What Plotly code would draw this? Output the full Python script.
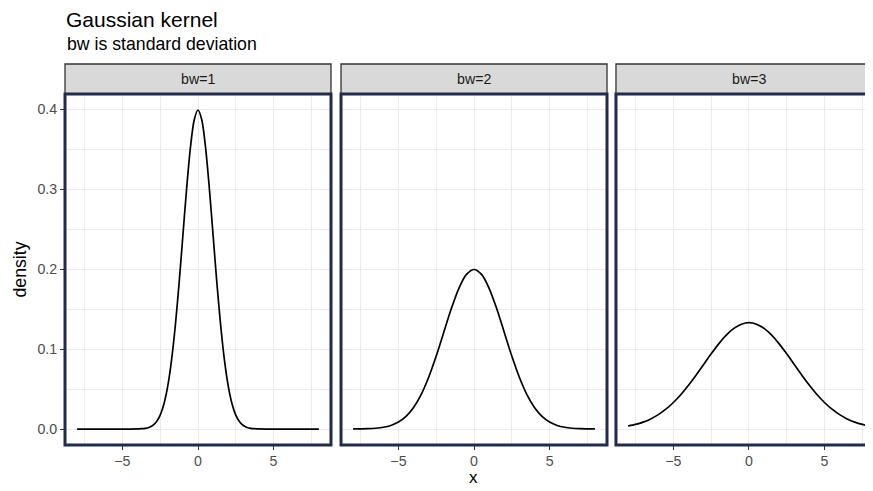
import plotly.graph_objects as go

# ---------------- data ----------------
panels = ["bw=1", "bw=2", "bw=3"]

x_bw1 = [-8, -6, -4.5, -4, -3.75, -3.5, -3.25, -3, -2.75, -2.5, -2.25, -2, -1.75, -1.5, -1.25, -1,
         -0.75, -0.5, -0.25, 0, 0.25, 0.5, 0.75, 1, 1.25, 1.5, 1.75, 2, 2.25, 2.5, 2.75, 3,
         3.25, 3.5, 3.75, 4, 4.5, 6, 8]
y_bw1 = [0.0, 0.0, 0.0, 0.0001, 0.0004, 0.0009, 0.0020, 0.0044, 0.0091, 0.0175, 0.0317, 0.0540,
         0.0863, 0.1295, 0.1826, 0.2420, 0.3011, 0.3521, 0.3867, 0.3989, 0.3867, 0.3521, 0.3011,
         0.2420, 0.1826, 0.1295, 0.0863, 0.0540, 0.0317, 0.0175, 0.0091, 0.0044, 0.0020, 0.0009,
         0.0004, 0.0001, 0.0, 0.0, 0.0]

x_bw23 = [-8, -7.5, -7, -6.5, -6, -5.5, -5, -4.5, -4, -3.5, -3, -2.5, -2, -1.5, -1, -0.5, 0,
          0.5, 1, 1.5, 2, 2.5, 3, 3.5, 4, 4.5, 5, 5.5, 6, 6.5, 7, 7.5, 8]
y_bw2 = [0.0001, 0.0002, 0.0004, 0.0010, 0.0022, 0.0045, 0.0088, 0.0159, 0.0270, 0.0431, 0.0648,
         0.0913, 0.1210, 0.1506, 0.1760, 0.1933, 0.1995, 0.1933, 0.1760, 0.1506, 0.1210, 0.0913,
         0.0648, 0.0431, 0.0270, 0.0159, 0.0088, 0.0045, 0.0022, 0.0010, 0.0004, 0.0002, 0.0001]
y_bw3 = [0.0038, 0.0058, 0.0087, 0.0127, 0.0180, 0.0248, 0.0332, 0.0432, 0.0547, 0.0673, 0.0807,
         0.0940, 0.1065, 0.1174, 0.1258, 0.1311, 0.1330, 0.1311, 0.1258, 0.1174, 0.1065, 0.0940,
         0.0807, 0.0673, 0.0547, 0.0432, 0.0332, 0.0248, 0.0180, 0.0127, 0.0087, 0.0058, 0.0038]

x_ticks = [-5, 0, 5]
y_ticks = [0.0, 0.1, 0.2, 0.3, 0.4]
y_tick_text = ["0.0", "0.1", "0.2", "0.3", "0.4"]

title = "Gaussian kernel"
subtitle = "bw is standard deviation"
x_title = "x"
y_title = "density"

# ---------------- styling ----------------
FONT = "Liberation Sans, Arial, sans-serif"
NAVY = "#222b4b"
GRID = "#ebebeb"
TICKC = "#4d4d4d"

fig = go.Figure()
series = [(x_bw1, y_bw1), (x_bw23, y_bw2), (x_bw23, y_bw3)]
for i, (xs, ys) in enumerate(series):
    ax = "" if i == 0 else str(i + 1)
    fig.add_trace(go.Scatter(x=xs, y=ys, mode="lines", xaxis="x" + ax, yaxis="y" + ax,
                             line=dict(color="black", width=1.7, shape="spline", smoothing=0.8),
                             showlegend=False, hoverinfo="skip"))

domains = [[0.0, 0.3292], [0.3416, 0.6708], [0.6819, 1.0]]
x_ranges = [[-8.8, 8.8], [-8.8, 8.8], [-8.8, 8.21]]
y_range = [-0.01995, 0.4189]

common_x = dict(tickvals=x_ticks, ticks="outside", ticklen=4, tickwidth=1.1, tickcolor="#333333",
                tickfont=dict(family=FONT, size=14.2, color=TICKC), showgrid=True, gridcolor=GRID,
                gridwidth=1.2, zeroline=False, showline=False, ticklabelstandoff=-1,
                minor=dict(dtick=2.5, tick0=-7.5, showgrid=True, gridcolor=GRID, gridwidth=0.6, ticks=""))
common_y = dict(range=y_range, showgrid=True, gridcolor=GRID, gridwidth=1.2, zeroline=False,
                showline=False, tickvals=y_ticks,
                minor=dict(dtick=0.05, tick0=0.05, showgrid=True, gridcolor=GRID, gridwidth=0.6, ticks=""))

# the page body adds an 8px offset, so the figure is 8px smaller and margins shifted by 8px
layout = dict(width=865, height=483, margin=dict(l=57, r=0, t=86, b=46),
              plot_bgcolor="white", paper_bgcolor="white", showlegend=False)
for i in range(3):
    ax = "" if i == 0 else str(i + 1)
    xa = dict(common_x, domain=domains[i], range=x_ranges[i], anchor="y" + ax)
    ya = dict(common_y, domain=[0, 1], anchor="x" + ax)
    if i == 0:
        ya.update(ticktext=y_tick_text, ticks="outside", ticklen=4, tickwidth=1.1, tickcolor="#333333",
                  tickfont=dict(family=FONT, size=14.2, color=TICKC))
    else:
        ya.update(showticklabels=False, ticks="", matches="y")
    layout["xaxis" + ax] = xa
    layout["yaxis" + ax] = ya
fig.update_layout(**layout)

shapes = []
annotations = []
strip_y0, strip_y1 = 1.0, 1.0855
for i in range(3):
    ax = "x" if i == 0 else "x" + str(i + 1)
    right = 1.0 if i < 2 else 266 / 257
    # strip
    shapes.append(dict(type="rect", xref=ax + " domain", yref="paper", x0=0, x1=right,
                       y0=strip_y0, y1=strip_y1, fillcolor="#d9d9d9",
                       line=dict(color="#333333", width=1.3), layer="above"))
    # panel border
    yax = "y" if i == 0 else "y" + str(i + 1)
    shapes.append(dict(type="rect", xref=ax + " domain", yref=yax + " domain", x0=0, x1=right,
                       y0=0, y1=1, line=dict(color=NAVY, width=3), fillcolor="rgba(0,0,0,0)",
                       layer="above"))
    annotations.append(dict(text=panels[i], xref=ax + " domain", yref="paper",
                            x=0.5 if i < 2 else 0.5 * 266 / 257, y=(strip_y0 + strip_y1) / 2,
                            xanchor="center", yanchor="middle", showarrow=False,
                            font=dict(family=FONT, size=14.2, color="#1a1a1a")))

annotations += [
    dict(text=title, xref="paper", yref="paper", x=0, y=1.2137, xanchor="left", yanchor="middle",
         height=18, valign="middle", borderpad=0,
         showarrow=False, font=dict(family=FONT, size=21, color="black")),
    dict(text=subtitle, xref="paper", yref="paper", x=0, y=1.1425, xanchor="left", yanchor="middle",
         showarrow=False, font=dict(family=FONT, size=17.7, color="black")),
    dict(text=x_title, xref="paper", yref="paper", x=0.5056, y=-0.1165, xanchor="center",
         yanchor="bottom", height=15, valign="middle", borderpad=0, showarrow=False,
         font=dict(family=FONT, size=17, color="black")),
    dict(text=y_title, xref="paper", yref="paper", x=-0.0569, y=0.5, xanchor="center",
         yanchor="middle", textangle=-90, showarrow=False,
         font=dict(family=FONT, size=17.7, color="black")),
]
fig.update_layout(shapes=shapes, annotations=annotations)

fig.write_html("out.html")
